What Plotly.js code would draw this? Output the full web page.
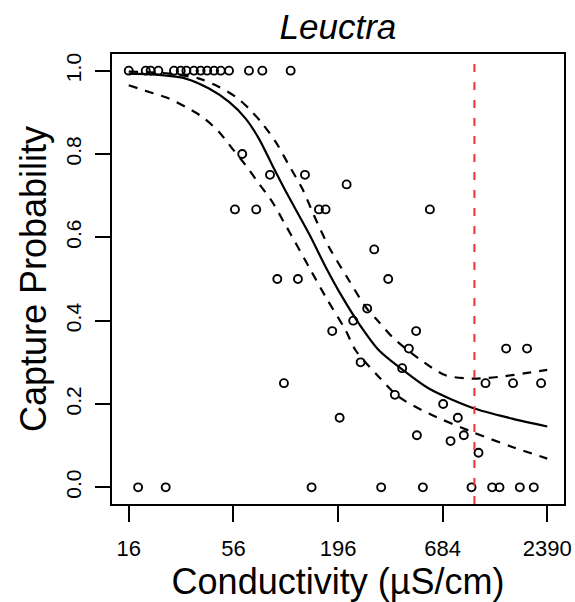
<!DOCTYPE html>
<html>
<head>
<meta charset="utf-8">
<script src="https://cdn.plot.ly/plotly-3.0.1.min.js"></script>
<style>html,body{margin:0;padding:0;background:#fff;}#chart{width:575px;height:602px;}</style>
</head>
<body>
<div id="chart"></div>
<script>
// Observed capture proportions
var condX = [16,19.6,20.8,22.8,27.5,29.8,31.9,34.9,37.8,40.9,44.4,48.1,53.1,67.4,79.1,111,
  62.2, 86.7,131.7, 57.0,73.5,155.7,168.6,587, 216.8, 301.6, 94.6,121.1,356.5, 277.3, 234.6,
  182.5,498, 456.4,1461,1877, 256.3, 421.3, 102.4,1142,1588,2220, 386, 688, 199.4,820,
  502.5,881, 751.6, 1050,
  17.9,24.9,142.6,327.8,539.8,966,1236,1350,1721,2034];
var captureY = [1,1,1,1,1,1,1,1,1,1,1,1,1,1,1,1,
  0.8, 0.75,0.75, 0.667,0.667,0.667,0.667,0.667, 0.727, 0.571, 0.5,0.5,0.5, 0.429, 0.4,
  0.375,0.375, 0.333,0.333,0.333, 0.3, 0.286, 0.25,0.25,0.25,0.25, 0.222, 0.2, 0.167,0.167,
  0.125,0.125, 0.111, 0.083,
  0,0,0,0,0,0,0,0,0,0];

// Fitted curve
var fitX = [16,21.2,31.6,41.8,53.1,64.8,75.9,89.1,104.5,138.1,168.7,205.7,251.1,318.9,421.3,580,973,1570,2390];
var fitY = [0.993,0.991,0.981,0.957,0.925,0.885,0.837,0.773,0.711,0.609,0.529,0.457,0.393,0.329,0.283,0.237,0.191,0.165,0.146];

// Upper confidence band
var upperX = [16,26,37.1,47.1,57.5,67.4,79.1,92.8,108.7,127.5,146.6,175.4,222.8,272.1,318.9,373.9,514.4,707.8,973,1339,1842,2390];
var upperY = [0.998,0.993,0.981,0.961,0.937,0.909,0.873,0.829,0.773,0.717,0.653,0.577,0.497,0.433,0.397,0.361,0.309,0.269,0.261,0.265,0.274,0.282];

// Lower confidence band
var lowerX = [16,20.4,25.9,31.6,38.6,47.1,55.2,64.8,75.9,89.1,104.5,113.1,138.1,168.7,214.2,241.3,318.9,405.1,580,973,1570,2390];
var lowerY = [0.965,0.949,0.933,0.913,0.889,0.853,0.813,0.773,0.729,0.685,0.629,0.601,0.529,0.457,0.377,0.329,0.265,0.217,0.177,0.133,0.097,0.069];

// Axis ticks and threshold
var xTickVals = [16,56,196,684,2390];
var xTickText = ["16","56","196","684","2390"];
var yTickVals = [0,0.2,0.4,0.6,0.8,1.0];
var thresholdX = 1000;

var FONT = "Liberation Sans, Arial, Helvetica, sans-serif";

var traces = [
  {x: fitX, y: fitY, mode: "lines", type: "scatter", line: {color: "#000", width: 2.2, shape: "spline", smoothing: 0.8}, hoverinfo: "skip"},
  {x: upperX, y: upperY, mode: "lines", type: "scatter", line: {color: "#000", width: 2.2, dash: "9px,8px", shape: "spline", smoothing: 0.8}, hoverinfo: "skip"},
  {x: lowerX, y: lowerY, mode: "lines", type: "scatter", line: {color: "#000", width: 2.2, dash: "9px,8px", shape: "spline", smoothing: 0.8}, hoverinfo: "skip"},
  {x: condX, y: captureY, mode: "markers", type: "scatter",
   marker: {symbol: "circle-open", size: 8, color: "#000", line: {width: 1.9, color: "#000"}}}
];

var lo = Math.log10(xTickVals[0]), hi = Math.log10(xTickVals[xTickVals.length-1]);
var pad = 0.04*(hi-lo);

var layout = {
  width: 575, height: 602,
  margin: {l: 112, r: 11, t: 54, b: 98},
  paper_bgcolor: "#fff", plot_bgcolor: "#fff",
  showlegend: false,
  font: {family: FONT, color: "#000"},
  title: {text: "<i>Leuctra</i>", font: {family: FONT, size: 35, color: "#000"},
          x: 0.5877, xanchor: "center", y: 0.955, yref: "container", yanchor: "middle"},
  xaxis: {
    type: "log", range: [lo - pad, hi + pad],
    tickvals: xTickVals, ticktext: xTickText,
    ticks: "outside", ticklen: 16, tickwidth: 2, tickcolor: "#000",
    showline: true, mirror: true, linewidth: 2, linecolor: "#000",
    showgrid: false, zeroline: false,
    tickfont: {family: FONT, size: 22, color: "#000"},
    ticklabelstandoff: 8,
    title: {text: "Conductivity (µS/cm)", font: {family: FONT, size: 36, color: "#000"}, standoff: 8}
  },
  yaxis: {
    range: [-0.04, 1.04],
    tickvals: yTickVals, tickformat: ".1f",
    tickangle: -90,
    ticks: "outside", ticklen: 15, tickwidth: 2, tickcolor: "#000",
    showline: true, mirror: true, linewidth: 2, linecolor: "#000",
    showgrid: false, zeroline: false,
    tickfont: {family: FONT, size: 21, color: "#000"},
    ticklabelstandoff: 6,
    title: {text: "Capture Probability", font: {family: FONT, size: 36, color: "#000"}, standoff: 4}
  },
  shapes: [{
    type: "line", xref: "x", yref: "paper", x0: thresholdX, x1: thresholdX, y0: 0, y1: 0.98,
    line: {color: "rgb(238,50,58)", width: 2, dash: "8px,10px"}
  }]
};

Plotly.newPlot("chart", traces, layout, {displayModeBar: false, staticPlot: true});
</script>
</body>
</html>
